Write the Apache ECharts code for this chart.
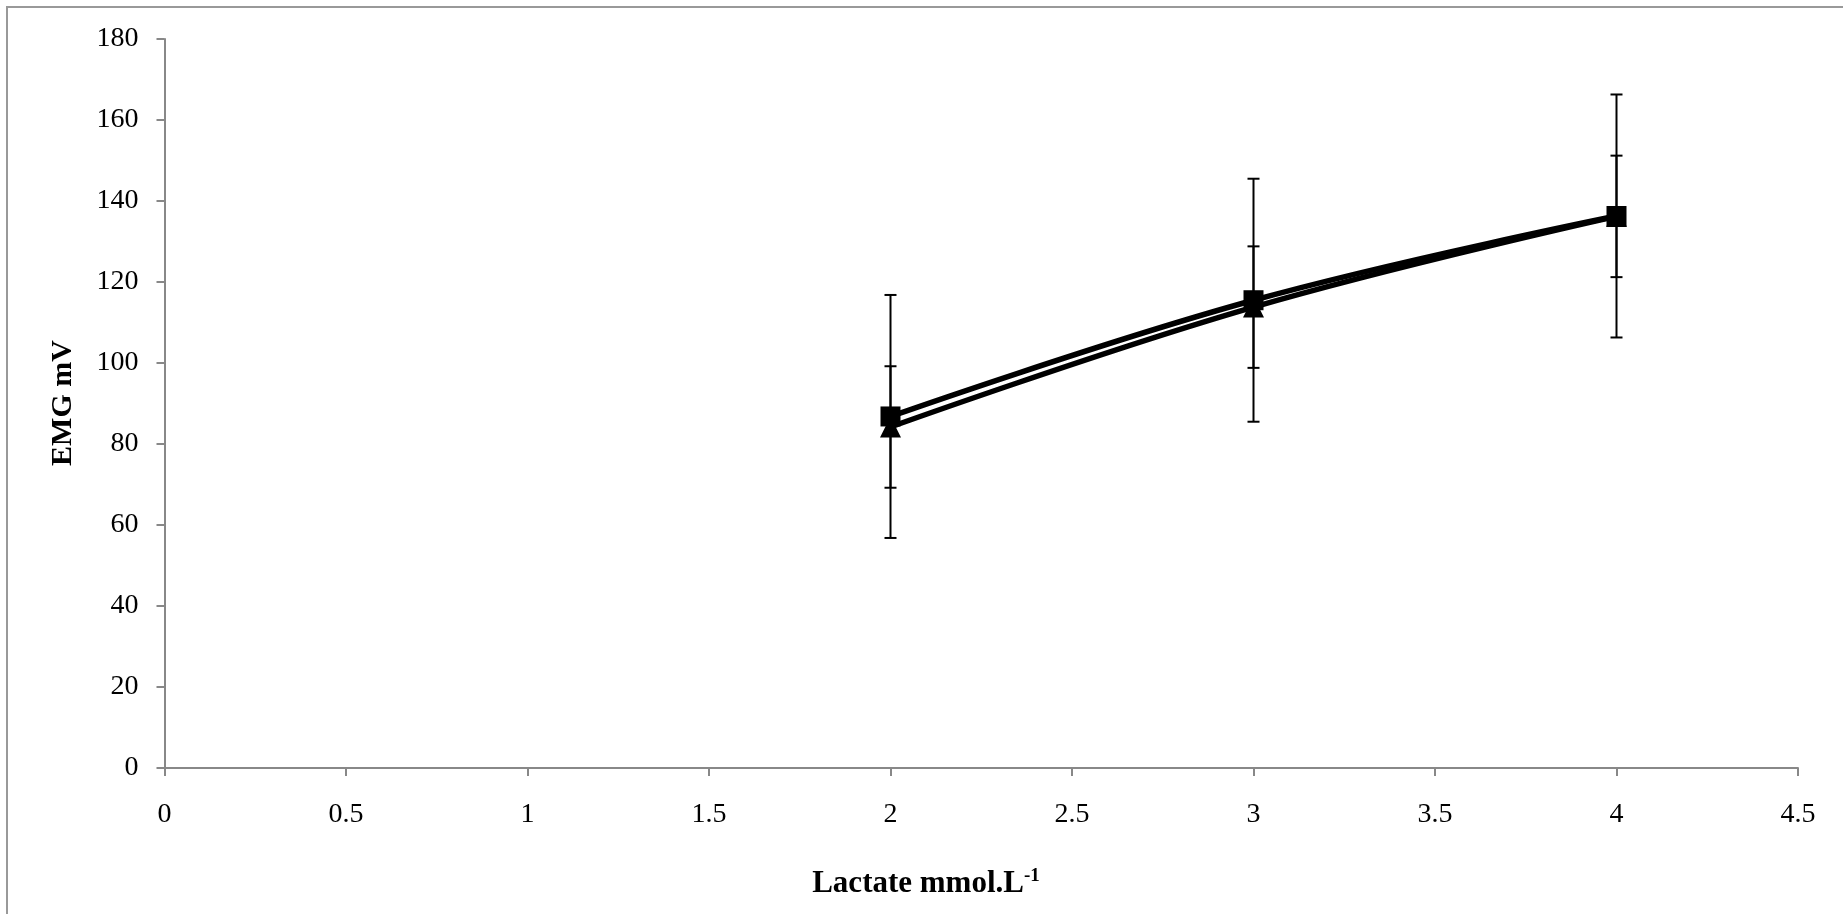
<!DOCTYPE html>
<html>
<head>
<meta charset="utf-8">
<script src="https://cdn.jsdelivr.net/npm/echarts@6/dist/echarts.min.js"></script>
<style>html,body{margin:0;padding:0;background:#fff}#c{width:1843px;height:914px}</style>
</head>
<body>
<div id="c"></div>
<script>
// Data
const lactate = [2, 3, 4];
const squareMean = [86.8, 115.5, 136.3];
const squareErr = [30, 30, 30];
const triangleMean = [84.2, 113.8, 136.2];
const triangleErr = [15, 15, 15];
const xTicks = [0, 0.5, 1, 1.5, 2, 2.5, 3, 3.5, 4, 4.5];
const yTicks = [0, 20, 40, 60, 80, 100, 120, 140, 160, 180];

const FONT = '"Liberation Serif", "Times New Roman", serif';

function errData(means, errs) {
  return lactate.map((x, i) => [x, means[i] - errs[i], means[i] + errs[i]]);
}

function errRender(params, api) {
  const x = api.value(0);
  const lo = api.coord([x, api.value(1)]);
  const hi = api.coord([x, api.value(2)]);
  const cw = 6;
  const st = { stroke: '#000', lineWidth: 2 };
  return {
    type: 'group',
    children: [
      { type: 'line', shape: { x1: lo[0], y1: lo[1], x2: hi[0], y2: hi[1] }, style: st },
      { type: 'line', shape: { x1: lo[0] - cw, y1: lo[1], x2: lo[0] + cw, y2: lo[1] }, style: st },
      { type: 'line', shape: { x1: hi[0] - cw, y1: hi[1], x2: hi[0] + cw, y2: hi[1] }, style: st }
    ]
  };
}

const chart = echarts.init(document.getElementById('c'), null, { renderer: 'canvas' });
chart.setOption({
  backgroundColor: '#fff',
  animation: false,
  grid: { left: 164.5, top: 39, right: 45, bottom: 146 },
  xAxis: {
    type: 'value', min: 0, max: 4.5, interval: 0.5,
    axisLine: { show: true, lineStyle: { color: '#888', width: 2 } },
    axisTick: { show: true, inside: false, length: 8, lineStyle: { color: '#888', width: 2 } },
    axisLabel: { color: '#000', fontFamily: FONT, fontSize: 28, margin: 33,
      formatter: v => String(v) },
    splitLine: { show: false }
  },
  yAxis: {
    type: 'value', min: 0, max: 180, interval: 20,
    axisLine: { show: true, lineStyle: { color: '#888', width: 2 } },
    axisTick: { show: true, inside: false, length: 8, lineStyle: { color: '#888', width: 2 } },
    axisLabel: { color: '#000', fontFamily: FONT, fontSize: 28, margin: 26, padding: [7, 0, 0, 0] },
    splitLine: { show: false }
  },
  series: [
    { type: 'custom', renderItem: errRender, data: errData(squareMean, squareErr), z: 1 },
    { type: 'custom', renderItem: errRender, data: errData(triangleMean, triangleErr), z: 1 },
    {
      type: 'line', smooth: 0.4, data: lactate.map((x, i) => [x, triangleMean[i]]),
      symbol: 'triangle', symbolSize: 21, showAllSymbol: true,
      lineStyle: { color: '#000', width: 5.5 }, itemStyle: { color: '#000' }, z: 3
    },
    {
      type: 'line', smooth: 0.4, data: lactate.map((x, i) => [x, squareMean[i]]),
      symbol: 'rect', symbolSize: 20, showAllSymbol: true,
      lineStyle: { color: '#000', width: 5.5 }, itemStyle: { color: '#000' }, z: 4
    }
  ],
  graphic: [
    { type: 'rect', shape: { x: 7, y: 7, width: 1850, height: 920 },
      style: { fill: 'none', stroke: '#999', lineWidth: 2 }, z: -1 },
    { type: 'text', x: 926, y: 883,
      style: { text: '{b|Lactate mmol.L}{s|-1}', align: 'center', verticalAlign: 'middle',
        rich: {
          b: { fontFamily: FONT, fontWeight: 'bold', fontSize: 31, fill: '#000', lineHeight: 33, verticalAlign: 'bottom' },
          s: { fontFamily: FONT, fontWeight: 'bold', fontSize: 19, fill: '#000', lineHeight: 33, verticalAlign: 'top' }
        } } },
    { type: 'text', x: 63, y: 403, rotation: Math.PI / 2,
      style: { text: 'EMG mV', align: 'center', verticalAlign: 'middle',
        font: 'bold 30px ' + FONT, fill: '#000' } }
  ]
});
</script>
</body>
</html>
